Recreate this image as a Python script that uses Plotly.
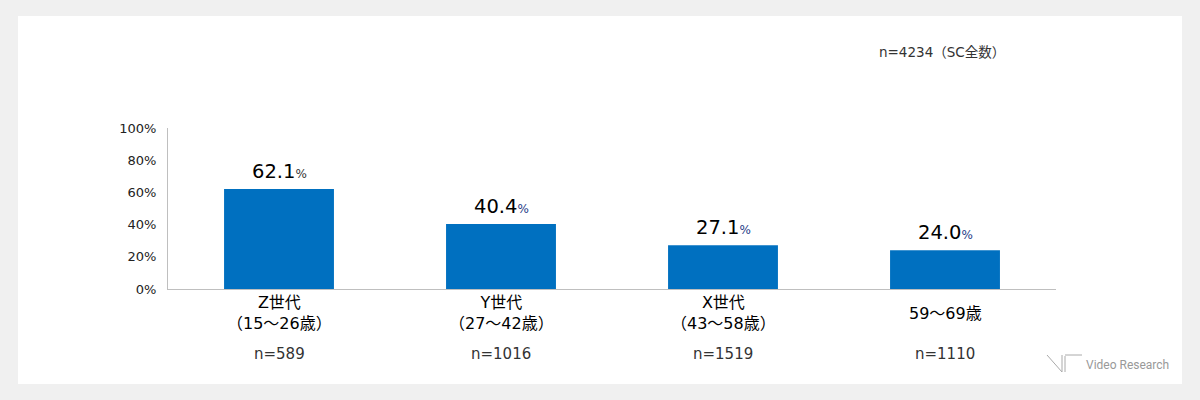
import plotly.graph_objects as go

categories = ["Z世代", "Y世代", "X世代", "59〜69歳"]
age_ranges = ["（15〜26歳）", "（27〜42歳）", "（43〜58歳）", ""]
values = [62.1, 40.4, 27.1, 24.0]
sample_sizes = [589, 1016, 1519, 1110]
total_n = 4234
y_ticks = [0, 20, 40, 60, 80, 100]
y_tick_labels = ["0%", "20%", "40%", "60%", "80%", "100%"]

FONT = "DejaVu Sans, Noto Sans CJK JP"
BAR = "#0070c0"
W, H = 1200, 400
L, R, T, B = 168, 1056, 128, 289


def px(x):
    return (x - L) / (R - L)


def py(y):
    return (B - y) / (B - T)


fig = go.Figure()
fig.add_trace(go.Bar(
    x=categories, y=values, marker=dict(color=BAR, line=dict(width=0)),
    width=0.495, hoverinfo="skip",
))

annotations = []
pct_colors = ["#333333", "#1f3c88", "#1f3c88", "#1f3c88"]
for c, v, pc in zip(categories, values, pct_colors):
    annotations.append(dict(
        x=c, y=v, xref="x", yref="y", yanchor="bottom", yshift=4,
        text=f"{v:.1f}<span style='font-size:12px;color:{pc}'>%</span>",
        showarrow=False, font=dict(family=FONT, size=19.5, color="#000000"),
    ))
for c, a, n in zip(categories, age_ranges, sample_sizes):
    label = c + ("<br>" + a if a else "")
    annotations.append(dict(
        x=c, y=py(313), xref="x", yref="paper", yanchor="middle",
        text=label, showarrow=False,
        font=dict(family=FONT, size=16, color="#000000"),
    ))
    annotations.append(dict(
        x=c, y=py(354), xref="x", yref="paper", yanchor="middle",
        text=f"n={n}", showarrow=False,
        font=dict(family=FONT, size=15, color="#333333"),
    ))
annotations.append(dict(
    x=px(877), y=py(52), xref="paper", yref="paper", xanchor="left", yanchor="middle",
    text=f"n={total_n}（SC全数）", showarrow=False,
    font=dict(family=FONT, size=13.5, color="#333333"),
))
annotations.append(dict(
    x=px(1084), y=py(365), xref="paper", yref="paper", xanchor="left", yanchor="middle",
    text="Video Research", showarrow=False,
    font=dict(family="Roboto", size=12, color="#999999"),
))

shapes = [
    dict(type="rect", xref="paper", yref="paper", x0=px(18), x1=px(1182),
         y0=py(384), y1=py(16), fillcolor="white", line=dict(width=0), layer="below"),
    dict(type="line", xref="paper", yref="paper", x0=px(1047), y0=py(355),
         x1=px(1062), y1=py(372), line=dict(color="#aaaaaa", width=1)),
    dict(type="line", xref="paper", yref="paper", x0=px(1062), y0=py(372),
         x1=px(1062), y1=py(355), line=dict(color="#aaaaaa", width=1)),
    dict(type="line", xref="paper", yref="paper", x0=px(1065), y0=py(372),
         x1=px(1065), y1=py(356), line=dict(color="#aaaaaa", width=1)),
    dict(type="line", xref="paper", yref="paper", x0=px(1065), y0=py(355),
         x1=px(1082), y1=py(355), line=dict(color="#aaaaaa", width=1)),
]

fig.update_layout(
    width=W, height=H,
    margin=dict(l=L, r=W - R, t=T, b=H - B, pad=0),
    paper_bgcolor="#f0f0f0", plot_bgcolor="rgba(0,0,0,0)",
    showlegend=False, bargap=0.505,
    annotations=annotations, shapes=shapes,
    xaxis=dict(showticklabels=False, showgrid=False, zeroline=False,
               showline=True, linecolor="#bfbfbf", linewidth=1, ticks="",
               fixedrange=True),
    yaxis=dict(range=[0, 100], tickmode="array", tickvals=y_ticks,
               ticktext=y_tick_labels,
               showgrid=False, zeroline=False, showline=True,
               linecolor="#bfbfbf", linewidth=1, ticks="",
               ticklabelstandoff=8,
               tickfont=dict(family=FONT, size=13, color="#222222"),
               fixedrange=True),
)

fig.write_html("out.html", config={"displayModeBar": False},
               post_script="document.body.style.margin='0';")
